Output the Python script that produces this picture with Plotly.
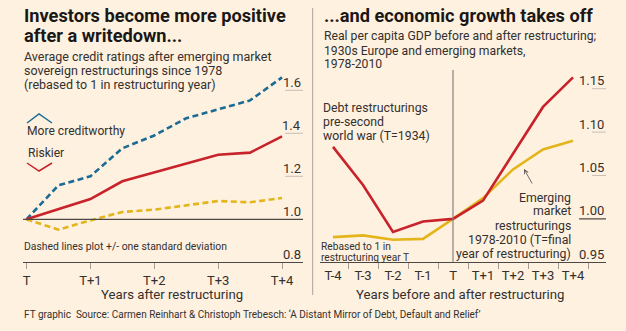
import plotly.graph_objects as go

# ---- credit ratings after restructuring (rebased to 1 in year T) ----
after_ticks = ["T", "T+1", "T+2", "T+3", "T+4"]
after_pos = [0, 1, 2, 3, 4]

mean_x = [0, 1, 1.5, 3, 3.5, 4]
mean_y = [1.0, 1.094, 1.177, 1.30, 1.31, 1.386]

upper_x = [0, 0.5, 1, 1.5, 2, 2.5, 3.5, 4]
upper_y = [1.0, 1.158, 1.20, 1.33, 1.39, 1.47, 1.553, 1.66]

lower_x = [0, 0.5, 1, 1.5, 2, 3, 3.5, 4]
lower_y = [1.0, 0.952, 0.995, 1.034, 1.045, 1.085, 1.079, 1.099]

rating_ticks = [0.8, 1.0, 1.2, 1.4, 1.6]
rating_labels = ["0.8", "1.0", "1.2", "1.4", "1.6"]

# ---- real GDP per capita around restructuring (T = 1) ----
years = [-4, -3, -2, -1, 0, 1, 2, 3, 4]
year_labels = ["T-4", "T-3", "T-2", "T-1", "T", "T+1", "T+2", "T+3", "T+4"]
prewar_gdp = [1.083, 1.039, 0.985, 0.997, 1.0, 1.021, 1.075, 1.129, 1.163]
em_gdp = [0.979, 0.981, 0.976, 0.977, 1.0, 1.024, 1.057, 1.080, 1.090]

gdp_ticks = [0.95, 1.00, 1.05, 1.10, 1.15]
gdp_labels = ["0.95", "1.00", "1.05", "1.10", "1.15"]

W, H = 626, 331
BG = "#fff1e0"
INK = "#33302e"
TITLE_INK = "#1a1817"
AXIS = "#4d4845"
GRID = "#c9bfb4"
RED = "#c8222b"
BLUE = "#1b6c94"
GOLD = "#e4b51b"
FONT = "Roboto"


def px(x):
    return x / W


def py(y):
    return 1 - y / H


annotations = []
shapes = []


def text(s, x, y, size, anchor="left", color=INK, bold=False):
    annotations.append(dict(
        text=f"<b>{s}</b>" if bold else s,
        x=px(x), y=py(y), xref="paper", yref="paper",
        xanchor=anchor, yanchor="middle", showarrow=False, borderpad=0,
        font=dict(family=FONT, size=size, color=color),
    ))


fig = go.Figure()

# left panel lines
fig.add_trace(go.Scatter(x=upper_x, y=upper_y, mode="lines", xaxis="x", yaxis="y",
                         line=dict(color=BLUE, width=2.6, dash="6px,3.5px")))
fig.add_trace(go.Scatter(x=lower_x, y=lower_y, mode="lines", xaxis="x", yaxis="y",
                         line=dict(color=GOLD, width=2.6, dash="6px,3.5px")))
fig.add_trace(go.Scatter(x=mean_x, y=mean_y, mode="lines", xaxis="x", yaxis="y",
                         line=dict(color=RED, width=2.6)))

# right panel lines
fig.add_trace(go.Scatter(x=years, y=em_gdp, mode="lines", xaxis="x2", yaxis="y2",
                         line=dict(color=GOLD, width=2.6)))
fig.add_trace(go.Scatter(x=years, y=prewar_gdp, mode="lines", xaxis="x2", yaxis="y2",
                         line=dict(color=RED, width=2.6)))

# value labels sitting on short rules at the right of each panel
for v, lab in zip(rating_ticks, rating_labels):
    annotations.append(dict(text=lab, x=1.0, y=v, xref="x domain", yref="y",
                            xanchor="right", yanchor="middle", yshift=8, showarrow=False,
                            font=dict(family=FONT, size=13, color=INK)))
    if v > 1.0:
        shapes.append(dict(type="line", xref="x domain", yref="y", x0=0.936, x1=1.0,
                           y0=v, y1=v, line=dict(color=GRID, width=1)))
shapes.append(dict(type="line", xref="x domain", yref="y", x0=0, x1=1, y0=1.0, y1=1.0,
                   line=dict(color=AXIS, width=1.2)))

for v, lab in zip(gdp_ticks, gdp_labels):
    annotations.append(dict(text=lab, x=1.0, y=v, xref="x2 domain", yref="y2",
                            xanchor="right", yanchor="middle", yshift=8, showarrow=False,
                            font=dict(family=FONT, size=13, color=INK)))
    if v == 1.0:
        shapes.append(dict(type="line", xref="x2 domain", yref="y2", x0=0.906, x1=1.0,
                           y0=v, y1=v, line=dict(color=AXIS, width=1.2)))
    elif v > 1.0:
        shapes.append(dict(type="line", xref="x2 domain", yref="y2", x0=0.951, x1=1.0,
                           y0=v, y1=v, line=dict(color=GRID, width=1)))

# restructuring year marker
shapes.append(dict(type="line", xref="x2", yref="y2 domain", x0=0, x1=0, y0=0, y1=0.95,
                   line=dict(color="#8a837d", width=1.2)))

# panel divider
shapes.append(dict(type="line", xref="paper", yref="paper", x0=px(312.7), x1=px(312.7),
                   y0=py(295), y1=py(8), line=dict(color="#a9a29c", width=1)))

# direction chevrons
shapes.append(dict(type="path", xref="paper", yref="paper",
                   path=f"M{px(27)},{py(123)} L{px(39)},{py(114)} L{px(52)},{py(123)}",
                   line=dict(color=BLUE, width=1.5)))
shapes.append(dict(type="path", xref="paper", yref="paper",
                   path=f"M{px(27)},{py(163)} L{px(39)},{py(171)} L{px(52)},{py(163)}",
                   line=dict(color=RED, width=1.5)))

# titles and notes
text("Investors become more positive", 23, 15.5, 18.2, color=TITLE_INK, bold=True)
text("after a writedown...", 23, 35.5, 18.2, color=TITLE_INK, bold=True)
text("Average credit ratings after emerging market", 23, 56.5, 12.5)
text("sovereign restructurings since 1978", 23, 70.5, 12.5)
text("(rebased to 1 in restructuring year)", 23, 84.5, 12.5)

text("More creditworthy", 26, 131, 12.1)
text("Riskier", 27, 153, 12.1)
text("Dashed lines plot +/- one standard deviation", 23, 246, 10.4)

text("...and economic growth takes off", 323, 15.5, 18.2, color=TITLE_INK, bold=True)
text("Real per capita GDP before and after restructuring;", 323, 36, 12.2)
text("1930s Europe and emerging markets,", 323, 50.5, 12.2)
text("1978-2010", 323, 64, 12.2)

text("Debt restructurings", 322, 108, 12.3)
text("pre-second", 322, 122, 12.3)
text("world war (T=1934)", 322, 135.5, 12.3)

for i, line in enumerate(["Emerging", "market", "restructurings",
                          "1978-2010 (T=final", "year of restructuring)"]):
    text(line, 572, 197.5 + 14 * i, 12.3, anchor="right")

text("Rebased to 1 in", 320, 246, 10.2)
text("restructuring year T", 320, 257, 10.2)

text("Years after restructuring", 172, 294, 13.2, anchor="center")
text("Years before and after restructuring", 460, 294, 13.2, anchor="center")
text("FT graphic  Source: Carmen Reinhart &amp; Christoph Trebesch: \u2018A Distant Mirror of Debt, Default and Relief\u2019",
     23, 314, 10)

# pointer to the emerging-market line
annotations.append(dict(text="", x=px(524), y=py(169), xref="paper", yref="paper",
                        showarrow=True, ax=9, ay=16, arrowhead=5, arrowsize=1,
                        arrowwidth=0.8, arrowcolor="#4d4845"))

y_bottom, y_top = 262.3, 60
left_scale = 215.0   # pixels per rating unit
right_scale = 868.0  # pixels per GDP unit

fig.update_layout(
    width=W, height=H,
    margin=dict(l=0, r=0, t=0, b=0),
    paper_bgcolor=BG, plot_bgcolor=BG,
    showlegend=False,
    annotations=annotations,
    shapes=shapes,
    xaxis=dict(domain=[px(23), px(303)], range=[-3.5 / 63.875, 4 + 21 / 63.875],
               anchor="y", tickmode="array", tickvals=after_pos, ticktext=after_ticks,
               ticks="outside", ticklen=6, tickcolor="#a39b94", tickwidth=1,
               showline=True, linecolor=AXIS, linewidth=1.2,
               showgrid=False, zeroline=False,
               tickfont=dict(family=FONT, size=13, color=INK)),
    yaxis=dict(domain=[py(y_bottom), py(y_top)],
               range=[0.8, 0.8 + (y_bottom - y_top) / left_scale],
               anchor="x", showticklabels=False, showgrid=False, zeroline=False, showline=False),
    xaxis2=dict(domain=[px(320), px(606)], range=[-4 - 13 / 30, -4 - 13 / 30 + 286 / 30],
                anchor="y2", tickmode="array", tickvals=years, ticktext=year_labels,
                ticks="", ticklabelstandoff=1,
                minor=dict(tickvals=[y + 0.5 for y in years], ticks="outside",
                           ticklen=6, tickcolor="#a39b94", tickwidth=1),
                showline=True, linecolor=AXIS, linewidth=1.2,
                showgrid=False, zeroline=False,
                tickfont=dict(family=FONT, size=13, color=INK)),
    yaxis2=dict(domain=[py(y_bottom), py(y_top)],
                range=[0.95, 0.95 + (y_bottom - y_top) / right_scale],
                anchor="x2", showticklabels=False, showgrid=False, zeroline=False, showline=False),
)

fig.write_html("out.html")
